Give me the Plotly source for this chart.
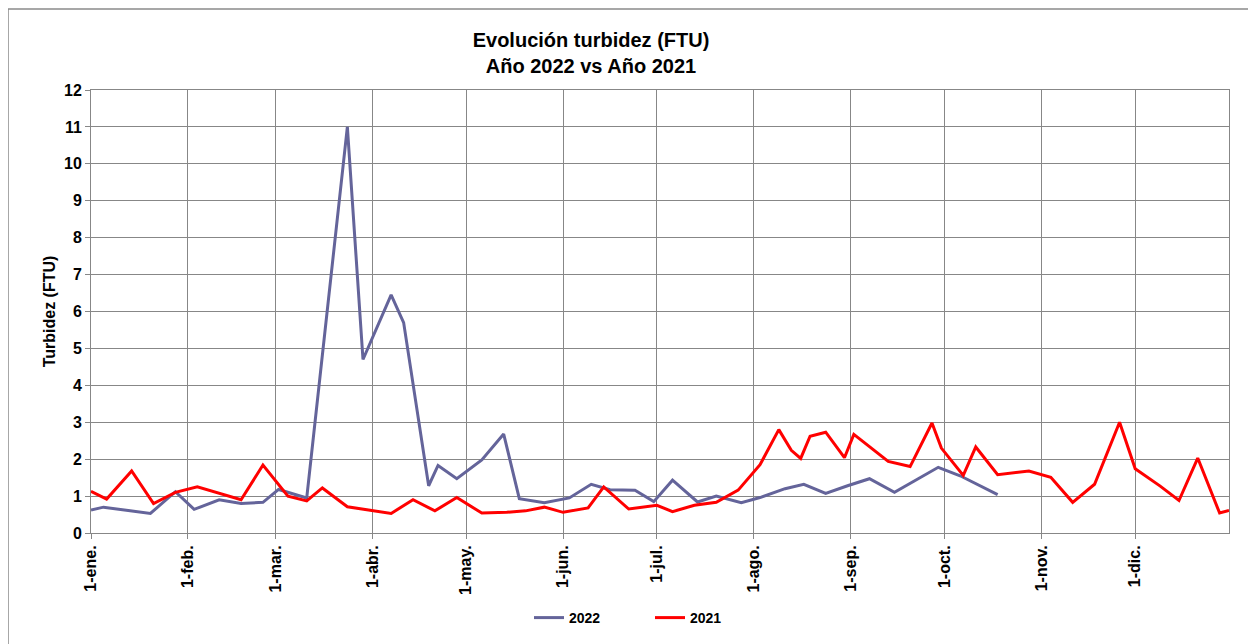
import plotly.graph_objects as go

# ---- data ----
dates_2022 = ["2022-01-01", "2022-01-05", "2022-01-20", "2022-01-28", "2022-02-03", "2022-02-11",
              "2022-02-18", "2022-02-25", "2022-03-02", "2022-03-11", "2022-03-24", "2022-03-29",
              "2022-04-07", "2022-04-11", "2022-04-19", "2022-04-22", "2022-04-28", "2022-05-06",
              "2022-05-13", "2022-05-18", "2022-05-26", "2022-06-03", "2022-06-10", "2022-06-16",
              "2022-06-24", "2022-06-30", "2022-07-06", "2022-07-14", "2022-07-20", "2022-07-28",
              "2022-08-03", "2022-08-11", "2022-08-17", "2022-08-24", "2022-08-31", "2022-09-07",
              "2022-09-15", "2022-09-29", "2022-10-06", "2022-10-12", "2022-10-18"]
values_2022 = [0.62, 0.70, 0.53, 1.12, 0.64, 0.90,
               0.80, 0.83, 1.18, 0.95, 11.0, 4.70,
               6.45, 5.70, 1.28, 1.83, 1.47, 1.98,
               2.68, 0.93, 0.82, 0.95, 1.32, 1.17,
               1.16, 0.85, 1.43, 0.84, 1.00, 0.82,
               0.96, 1.20, 1.32, 1.07, 1.28, 1.47,
               1.10, 1.78, 1.55, 1.30, 1.04]

dates_2021 = ["2022-01-01", "2022-01-06", "2022-01-14", "2022-01-21", "2022-01-28", "2022-02-04",
              "2022-02-18", "2022-02-25", "2022-03-05", "2022-03-11", "2022-03-16", "2022-03-24",
              "2022-04-07", "2022-04-14", "2022-04-21", "2022-04-28", "2022-05-06", "2022-05-14",
              "2022-05-20", "2022-05-26", "2022-06-01", "2022-06-09", "2022-06-14", "2022-06-22",
              "2022-07-01", "2022-07-06", "2022-07-13", "2022-07-20", "2022-07-27", "2022-08-03",
              "2022-08-09", "2022-08-13", "2022-08-16", "2022-08-19", "2022-08-24", "2022-08-30",
              "2022-09-02", "2022-09-13", "2022-09-20", "2022-09-27", "2022-09-30", "2022-10-07",
              "2022-10-11", "2022-10-18", "2022-10-28", "2022-11-04", "2022-11-11", "2022-11-18",
              "2022-11-26", "2022-12-01", "2022-12-09", "2022-12-15", "2022-12-21", "2022-12-28",
              "2022-12-31"]
values_2021 = [1.13, 0.92, 1.68, 0.80, 1.10, 1.25,
               0.90, 1.84, 1.00, 0.87, 1.22, 0.71,
               0.53, 0.90, 0.60, 0.96, 0.54, 0.56,
               0.60, 0.70, 0.56, 0.68, 1.25, 0.65,
               0.75, 0.58, 0.75, 0.83, 1.16, 1.85,
               2.80, 2.24, 2.02, 2.62, 2.73, 2.04,
               2.67, 1.94, 1.80, 2.98, 2.30, 1.56,
               2.33, 1.58, 1.68, 1.51, 0.83, 1.32,
               3.00, 1.74, 1.27, 0.88, 2.03, 0.54,
               0.61]

tick_vals = ["2022-01-01", "2022-02-01", "2022-03-01", "2022-04-01", "2022-05-01", "2022-06-01",
             "2022-07-01", "2022-08-01", "2022-09-01", "2022-10-01", "2022-11-01", "2022-12-01"]
tick_text = ["1-ene.", "1-feb.", "1-mar.", "1-abr.", "1-may.", "1-jun.",
             "1-jul.", "1-ago.", "1-sep.", "1-oct.", "1-nov.", "1-dic."]

FONT = "Liberation Sans, Arial, sans-serif"
GRID = "#878787"

fig = go.Figure()
fig.add_trace(go.Scatter(x=dates_2022, y=values_2022, mode="lines", name="2022",
                         line=dict(color="#64649A", width=3)))
fig.add_trace(go.Scatter(x=dates_2021, y=values_2021, mode="lines", name="2021",
                         line=dict(color="#FF0000", width=3)))

# page is offset by the body margin (8px); work in figure coords
OFF = 8
W, H = 1256, 644
L, T = 91 - OFF, 90 - OFF
R = W - (1229 - OFF)
B = H - (533 - OFF)
pw, ph = W - L - R, H - T - B

def px_x(p):  # page pixel -> paper x
    return (p - OFF - L) / pw

def px_y(p):  # page pixel -> paper y
    return (H - B - (p - OFF)) / ph

fig.update_layout(
    width=W, height=H,
    margin=dict(l=L, r=R, t=T, b=B),
    paper_bgcolor="white", plot_bgcolor="white",
    font=dict(family=FONT, color="black"),
    title=dict(text="<b>Evolución turbidez (FTU)<br>Año 2022 vs Año 2021</b>",
               font=dict(size=20, family=FONT, color="black"),
               x=px_x(591), xref="paper", xanchor="center",
               y=1 - 39 / H, yref="container", yanchor="top"),
    xaxis=dict(range=["2022-01-01", "2022-12-31"], tickmode="array",
               tickvals=tick_vals, ticktext=[f"<b>{t}</b>" for t in tick_text],
               tickangle=-90, tickfont=dict(size=16, family=FONT),
               showgrid=True, gridcolor=GRID, gridwidth=1,
               showline=True, linecolor=GRID, linewidth=1, mirror=True,
               ticks="outside", ticklen=5, tickcolor=GRID, zeroline=False),
    yaxis=dict(range=[0, 12], dtick=1, tick0=0,
               tickfont=dict(size=16, family=FONT),
               tickprefix="<b>", ticksuffix="</b>",
               showgrid=True, gridcolor=GRID, gridwidth=1,
               showline=True, linecolor=GRID, linewidth=1, mirror=True,
               ticks="outside", ticklen=5, tickcolor=GRID, zeroline=False,
               title=dict(text="<b>Turbidez (FTU)</b>", font=dict(size=16, family=FONT),
                          standoff=4)),
    showlegend=True,
    legend=dict(orientation="h", x=px_x(529), xanchor="left", y=px_y(618), yanchor="middle",
                font=dict(size=14, family="Liberation Sans Narrow, Arial Narrow, sans-serif",
                          weight="bold"),
                entrywidth=76, entrywidthmode="pixels", bgcolor="rgba(0,0,0,0)",
                itemclick=False),
    shapes=[dict(type="rect", xref="paper", yref="paper",
                 x0=px_x(8), x1=px_x(1252), y0=px_y(700), y1=px_y(9),
                 line=dict(color="#8a8a8a", width=1.5), fillcolor="rgba(0,0,0,0)", layer="below")],
)

fig.write_html("out.html")
